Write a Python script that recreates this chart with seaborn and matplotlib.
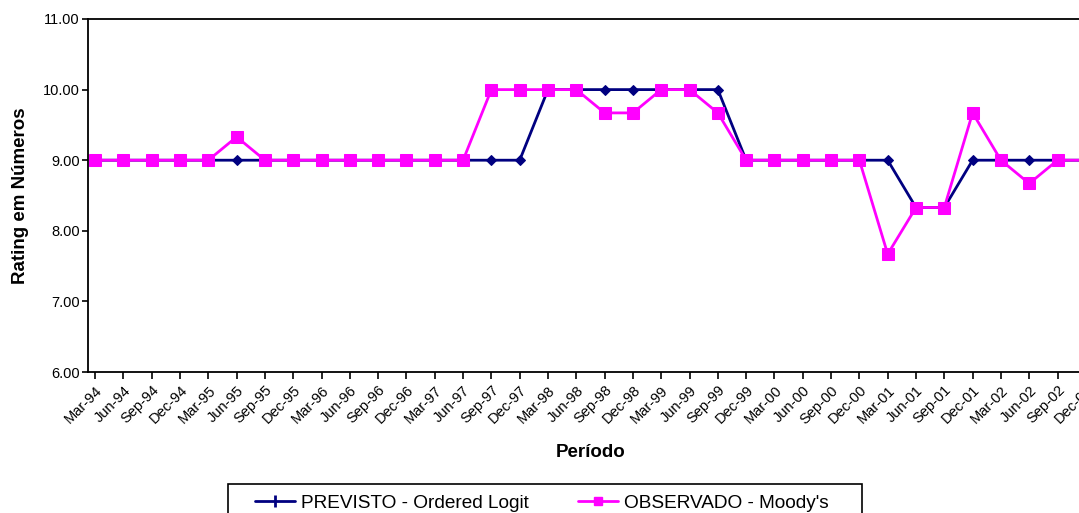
import numpy as np
import matplotlib
matplotlib.use("Agg")
import matplotlib.pyplot as plt
from matplotlib.lines import Line2D
from matplotlib.patches import Rectangle
from matplotlib.ticker import FormatStrFormatter
import seaborn as sns


periodos = [
    'Mar-94', 'Jun-94', 'Sep-94', 'Dec-94',
    'Mar-95', 'Jun-95', 'Sep-95', 'Dec-95',
    'Mar-96', 'Jun-96', 'Sep-96', 'Dec-96',
    'Mar-97', 'Jun-97', 'Sep-97', 'Dec-97',
    'Mar-98', 'Jun-98', 'Sep-98', 'Dec-98',
    'Mar-99', 'Jun-99', 'Sep-99', 'Dec-99',
    'Mar-00', 'Jun-00', 'Sep-00', 'Dec-00',
    'Mar-01', 'Jun-01', 'Sep-01', 'Dec-01',
    'Mar-02', 'Jun-02', 'Sep-02', 'Dec-02',
]

previsto = [
    9, 9, 9, 9,
    9, 9, 9, 9,
    9, 9, 9, 9,
    9, 9, 9, 9,
    10, 10, 10, 10,
    10, 10, 10, 9,
    9, 9, 9, 9,
    9, 8.33, 8.33, 9,
    9, 9, 9, 9,
]

observado = [
    9, 9, 9, 9,
    9, 9.33, 9, 9,
    9, 9, 9, 9,
    9, 9, 10, 10,
    10, 10, 9.67, 9.67,
    10, 10, 9.67, 9,
    9, 9, 9, 9,
    7.67, 8.33, 8.33, 9.67,
    9, 8.67, 9, 9,
]

label_prev = 'PREVISTO - Ordered Logit'
label_obs = "OBSERVADO - Moody's"

cor_prev = '#000080'
cor_obs = '#FF00FF'


def main():
    sns.set_style('white')
    plt.rcParams['font.family'] = ['Liberation Sans', 'DejaVu Sans']
    plt.rcParams['text.color'] = 'black'
    plt.rcParams['axes.labelcolor'] = 'black'
    plt.rcParams['xtick.color'] = 'black'
    plt.rcParams['ytick.color'] = 'black'

    W, H = 1079, 513
    fig = plt.figure(figsize=(W / 100, H / 100), dpi=100)
    # área do gráfico passa da borda direita (imagem original recortada)
    ax = fig.add_axes([88 / W, 141 / H, 1012 / W, 353 / H])

    x = np.arange(len(periodos))

    sns.lineplot(x=x, y=previsto, ax=ax, color=cor_prev, linewidth=2,
                 marker='D', markersize=5.5, markeredgecolor=cor_prev,
                 legend=False)
    sns.lineplot(x=x, y=observado, ax=ax, color=cor_obs, linewidth=2,
                 marker='s', markersize=8, markeredgecolor=cor_obs,
                 legend=False)

    ax.set_xlim(-0.25, 35.5)
    ax.set_ylim(6, 11)
    ax.set_yticks(np.arange(6, 11.01, 1))
    ax.yaxis.set_major_formatter(FormatStrFormatter('%.2f'))
    ax.set_xticks(x)
    ax.set_xticklabels(periodos, rotation=45, ha='right',
                       rotation_mode='anchor', fontsize=10.5)
    ax.tick_params(axis='y', labelsize=10.5, length=4, width=1.2,
                   direction='out', left=True, pad=2)
    ax.tick_params(axis='x', length=5, width=1.2, direction='out',
                   bottom=True, pad=3)

    for lado in ['top', 'left', 'bottom']:
        ax.spines[lado].set_color('black')
        ax.spines[lado].set_linewidth(1.3)
    ax.spines['right'].set_visible(False)

    ax.set_ylabel('Rating em Números', fontsize=13.5, fontweight='bold')
    ax.yaxis.set_label_coords(-0.058, 0.5)
    ax.set_xlabel('Período', fontsize=13.5, fontweight='bold')
    ax.xaxis.set_label_coords(0.497, -0.205)

    # legenda na parte inferior, cortada pela borda como no original
    handles = [
        Line2D([], [], color=cor_prev, linewidth=2, marker='|',
               markersize=8, markeredgewidth=2),
        Line2D([], [], color=cor_obs, linewidth=2, marker='s',
               markersize=6),
    ]
    fig.legend(handles, [label_prev, label_obs], loc='center left',
               bbox_to_anchor=(255 / W, 10 / H), ncol=2, frameon=False,
               fontsize=13.7, handlelength=2.1, handletextpad=0.3,
               columnspacing=2.6, borderpad=0, borderaxespad=0)
    fig.patches.append(Rectangle((228 / W, -0.05), 634 / W, 29 / H + 0.05,
                                 transform=fig.transFigure, fill=False,
                                 edgecolor='black', linewidth=1.2))

    fig.savefig('out.png', dpi=100)


if __name__ == "__main__":
    main()
